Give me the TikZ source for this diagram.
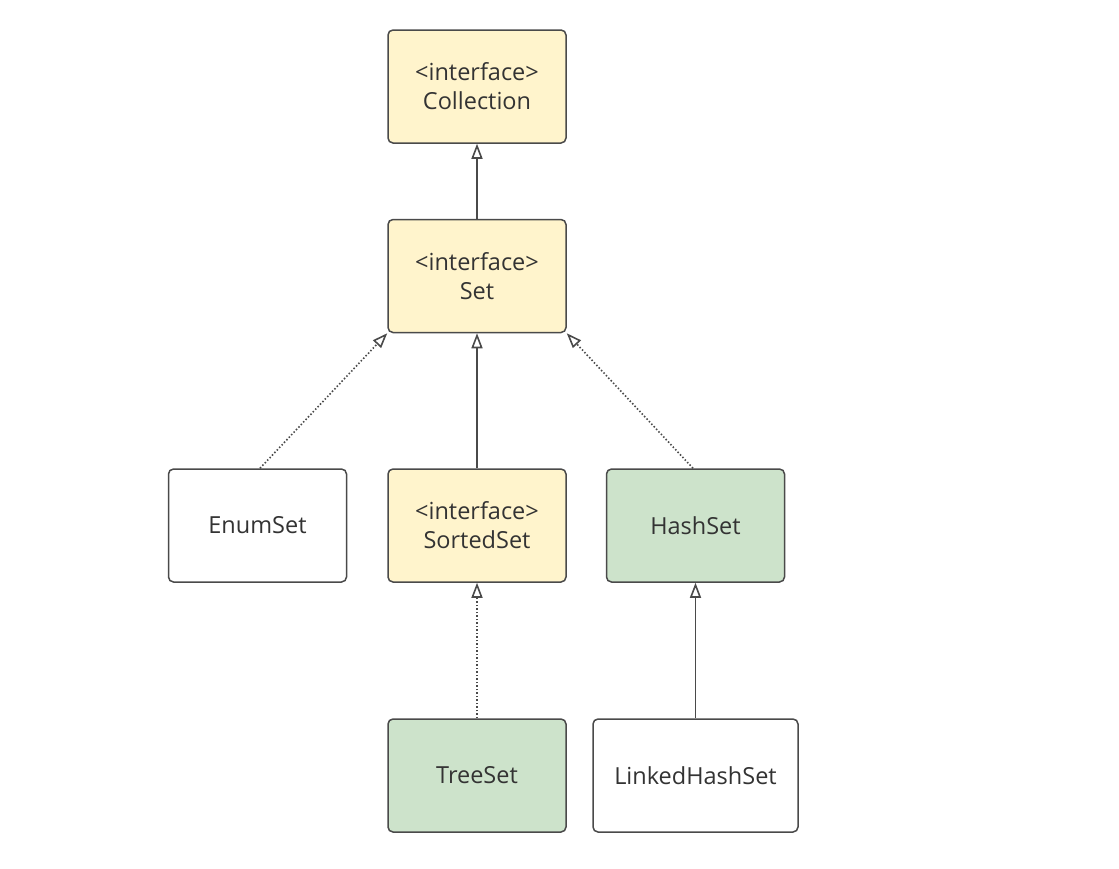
\documentclass[tikz,border=0pt]{standalone}
\usepackage{fontspec}
\setmainfont{Open Sans}
\usetikzlibrary{arrows.meta}
\definecolor{ifill}{HTML}{FFF4CC}
\definecolor{gfill}{HTML}{CDE3CB}
\definecolor{bord}{HTML}{4A4A4A}
\definecolor{txt}{HTML}{333333}
\begin{document}
\begin{tikzpicture}[x=1pt,y=-1pt,
  box/.style={draw=bord, line width=1.5pt, rounded corners=5pt, minimum width=178pt, minimum height=113pt, inner sep=0pt, align=center, font=\fontsize{23.5}{29}\selectfont, text=txt},
  iface/.style={box, fill=ifill},
  impl/.style={box, fill=gfill},
  plain/.style={box, fill=white},
  gen/.style={draw=bord, line width=1.6pt, -{Triangle[open, length=15pt, width=11pt, fill=white]}},
  real/.style={gen, dash pattern=on 1.5pt off 2pt}
]
\useasboundingbox (0,0) rectangle (1119,868);
\fill[white] (0,0) rectangle (1119,868);
\node[iface] (coll) at (477,86.5) {<interface>\\Collection};
\node[iface] (set) at (477,276) {<interface>\\Set};
\node[plain] (enum) at (257.5,525.5) {EnumSet};
\node[iface] (sorted) at (477,525.5) {<interface>\\SortedSet};
\node[impl] (hash) at (695.5,525.5) {HashSet};
\node[impl] (tree) at (477,775.5) {TreeSet};
\node[plain, minimum width=205pt] (lhs) at (695.5,775.5) {LinkedHashSet};
\draw[gen] (set.north) -- (coll.south);
\draw[real] ([xshift=2.5pt]enum.north) -- (set.south west);
\draw[gen] (sorted.north) -- (set.south);
\draw[real] ([xshift=-2.5pt]hash.north) -- (set.south east);
\draw[real] (tree.north) -- (sorted.south);
\draw[gen] (lhs.north) -- (hash.south);
\end{tikzpicture}
\end{document}
